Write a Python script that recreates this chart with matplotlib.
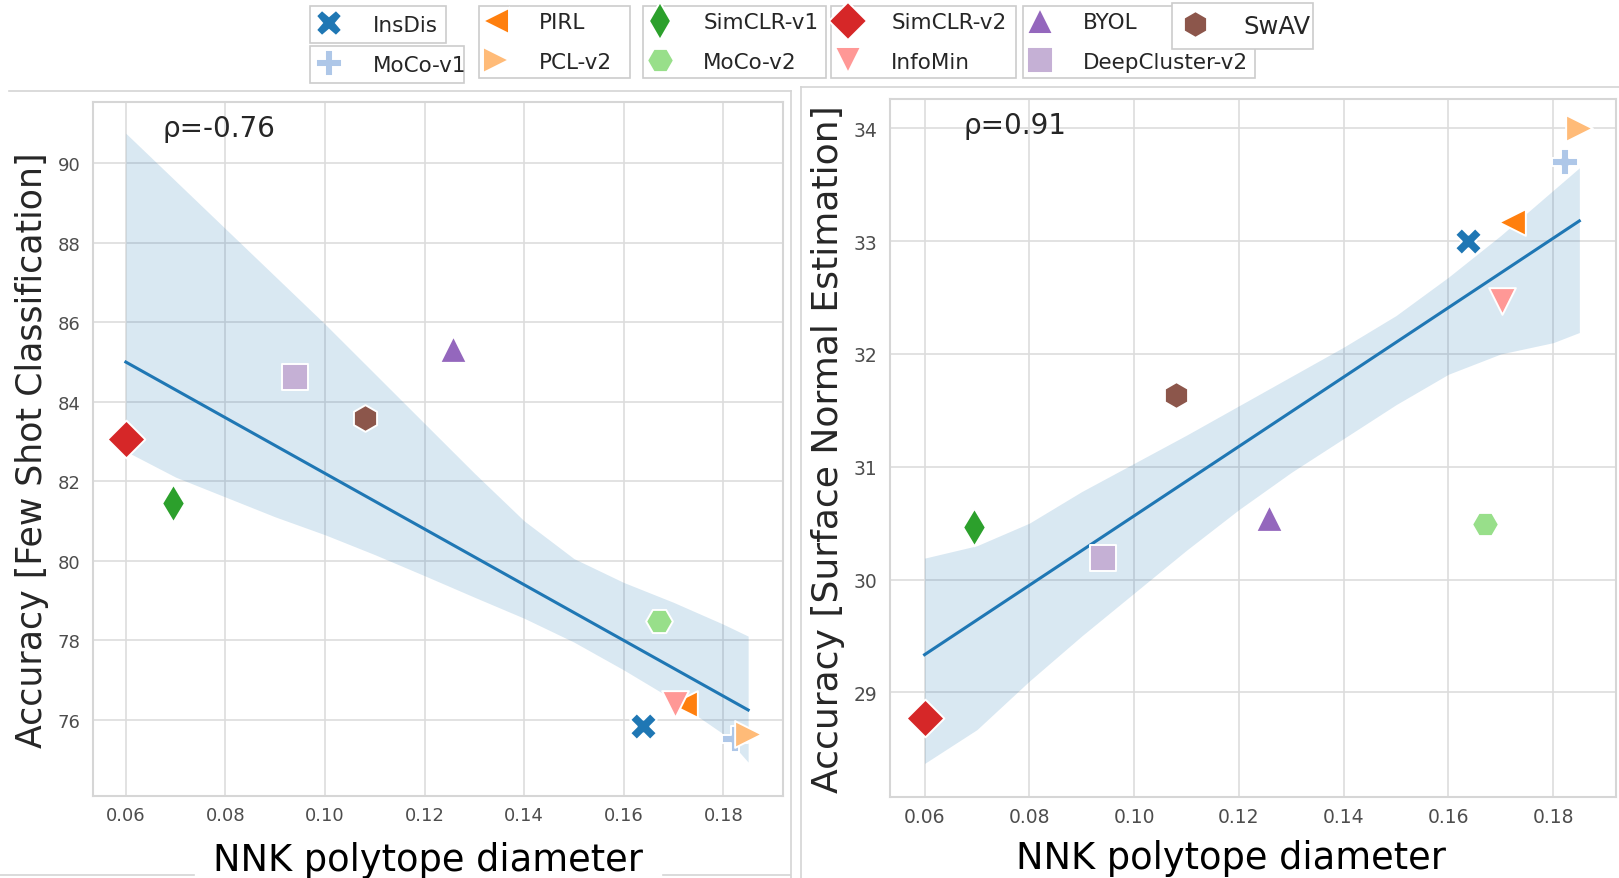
import numpy as np
import matplotlib
matplotlib.use("Agg")
import matplotlib.pyplot as plt
from matplotlib.lines import Line2D

# methods, in the order they are drawn (later ones sit on top)
methods = ["InsDis", "MoCo-v1", "PIRL", "PCL-v2", "SimCLR-v1", "MoCo-v2",
           "SimCLR-v2", "InfoMin", "BYOL", "DeepCluster-v2", "SwAV"]
markers = ["X", "P", "<", ">", "d", "H", "D", "v", "^", "s", "h"]
colors = ["#1f77b4", "#aec7e8", "#ff7f0e", "#ffbb78", "#2ca02c", "#98df8a",
          "#d62728", "#ff9896", "#9467bd", "#c5b0d5", "#8c564b"]

diameter = [0.1638, 0.1823, 0.1722, 0.1850, 0.0695, 0.1670,
            0.0600, 0.1703, 0.1258, 0.0940, 0.1080]
acc_fewshot = [75.85, 75.52, 76.39, 75.64, 81.44, 78.47,
               83.05, 76.39, 85.32, 84.61, 83.59]
acc_normal = [33.00, 33.70, 33.17, 34.00, 30.47, 30.49,
              28.77, 32.47, 30.55, 30.19, 31.64]

# confidence band edges
band_x = [0.060, 0.070, 0.080, 0.090, 0.100, 0.110, 0.120,
          0.130, 0.140, 0.150, 0.160, 0.170, 0.180, 0.185]
fewshot_hi = [90.75, 89.55, 88.35, 87.15, 85.95, 84.70, 83.45,
              82.20, 81.00, 80.05, 79.45, 78.95, 78.40, 78.10]
fewshot_lo = [82.75, 82.10, 81.60, 81.10, 80.65, 80.15, 79.62,
              79.08, 78.55, 77.95, 77.25, 76.50, 75.64, 74.93]
normal_hi = [30.19, 30.30, 30.50, 30.78, 31.03, 31.28, 31.54,
             31.80, 32.06, 32.34, 32.68, 33.05, 33.45, 33.65]
normal_lo = [28.37, 28.67, 29.10, 29.50, 29.88, 30.26, 30.62,
             30.95, 31.25, 31.55, 31.82, 32.00, 32.10, 32.19]

xticks = [0.06, 0.08, 0.10, 0.12, 0.14, 0.16, 0.18]
fewshot_yticks = [76, 78, 80, 82, 84, 86, 88, 90]
normal_yticks = [29, 30, 31, 32, 33, 34]

W, H = 1619, 879
MS = 370


def panel(ax, y, lo, hi, rho, ylabel, yticks, ylim, tsize, lsize, xlab_pos, ylab_x):
    ax.fill_between(band_x, lo, hi, color=colors[0], alpha=0.17, lw=0, zorder=1)
    k, b = np.polyfit(diameter, y, 1)
    xs = np.array([min(diameter), max(diameter)])
    ax.plot(xs, k * xs + b, color=colors[0], lw=2.2, zorder=2)
    for i in range(len(methods)):
        ax.scatter(diameter[i], y[i], s=MS, marker=markers[i], c=colors[i],
                   edgecolors="white", linewidths=1.4, zorder=3)
    ax.set_xlim(0.0534, 0.192)
    ax.set_ylim(*ylim)
    ax.set_xticks(xticks)
    ax.set_xticklabels(["%.2f" % t for t in xticks])
    ax.set_yticks(yticks)
    ax.grid(True, color="#dddddd", lw=1.2)
    ax.set_axisbelow(True)
    for s in ax.spines.values():
        s.set_color("#d6d6d6")
        s.set_linewidth(1.5)
    ax.tick_params(length=0, labelsize=tsize, labelcolor="0.3")
    ax.tick_params(axis="x", pad=7)
    ax.tick_params(axis="y", pad=9)
    ax.text(0.101, 0.952, rho, transform=ax.transAxes, fontsize=20,
            color="0.15", va="baseline")
    ax.set_xlabel("NNK polytope diameter", fontsize=26.5, color="black")
    ax.xaxis.set_label_coords(*xlab_pos)
    ax.set_ylabel(ylabel, fontsize=lsize, color="0.15")
    ax.yaxis.set_label_coords(ylab_x, 0.5)


fig = plt.figure(figsize=(W / 100, H / 100), dpi=100)
ax1 = fig.add_axes([93 / W, 1 - 797.3 / H, 690 / W, 694 / H])
ax2 = fig.add_axes([890 / W, 1 - 798.3 / H, 726 / W, 698.3 / H])

panel(ax1, acc_fewshot, fewshot_lo, fewshot_hi, "ρ=-0.76",
      "Accuracy [Few Shot Classification]", fewshot_yticks, (74.07, 91.53),
      13, 25, (0.486, -0.064), -0.064)
panel(ax2, acc_normal, normal_lo, normal_hi, "ρ=0.91",
      "Accuracy [Surface Normal Estimation]", normal_yticks, (28.07, 34.26),
      13.5, 26, (0.47, -0.060), -0.062)

# panel border lines left from the original screenshots
border = "#d4d4d4"
for (xa, ya, xb, yb) in [(9, 92, 791, 92), (791, 92, 791, 879), (801, 88, 1619, 88),
                         (801, 88, 801, 879), (0, 876, 194, 876), (663, 876, 790, 876)]:
    fig.add_artist(Line2D([xa / W, xb / W], [1 - ya / H, 1 - yb / H],
                          transform=fig.transFigure, color=border, lw=1.2))

# legend pieces: names, left, top, right (px), font size, border pad
groups = [(["InsDis"], 310, 7, 446, 15.5, 0.4),
          (["MoCo-v1"], 310, 47, 464, 15.5, 0.4),
          (["PIRL", "PCL-v2"], 479, 7, 630, 15.5, 0.3),
          (["SimCLR-v1", "MoCo-v2"], 643, 7, 826, 15.5, 0.3),
          (["SimCLR-v2", "InfoMin"], 831, 7, 1016, 15.5, 0.3),
          (["BYOL", "DeepCluster-v2"], 1023, 7, 1255, 15.5, 0.3),
          (["SwAV"], 1172, 4, 1313, 17.5, 0.45)]
for names, x0, top, x1, fs, bp in groups:
    handles = []
    for n in names:
        i = methods.index(n)
        handles.append(Line2D([], [], ls="none", marker=markers[i], color=colors[i],
                              markersize=np.sqrt(MS), markeredgecolor="white",
                              markeredgewidth=1.4))
    leg = fig.legend(handles, names, loc="upper left",
                     bbox_to_anchor=(x0 / W, 1 - top / H, (x1 - x0) / W, 0),
                     bbox_transform=fig.transFigure, mode="expand", borderaxespad=0,
                     fontsize=fs, frameon=True, fancybox=False, framealpha=1,
                     edgecolor="#cccccc", handlelength=1.0, handletextpad=1.5,
                     borderpad=bp, labelspacing=0.9, labelcolor="0.15")
    leg.get_frame().set_linewidth(1.2)

fig.savefig("out.png", dpi=100)
